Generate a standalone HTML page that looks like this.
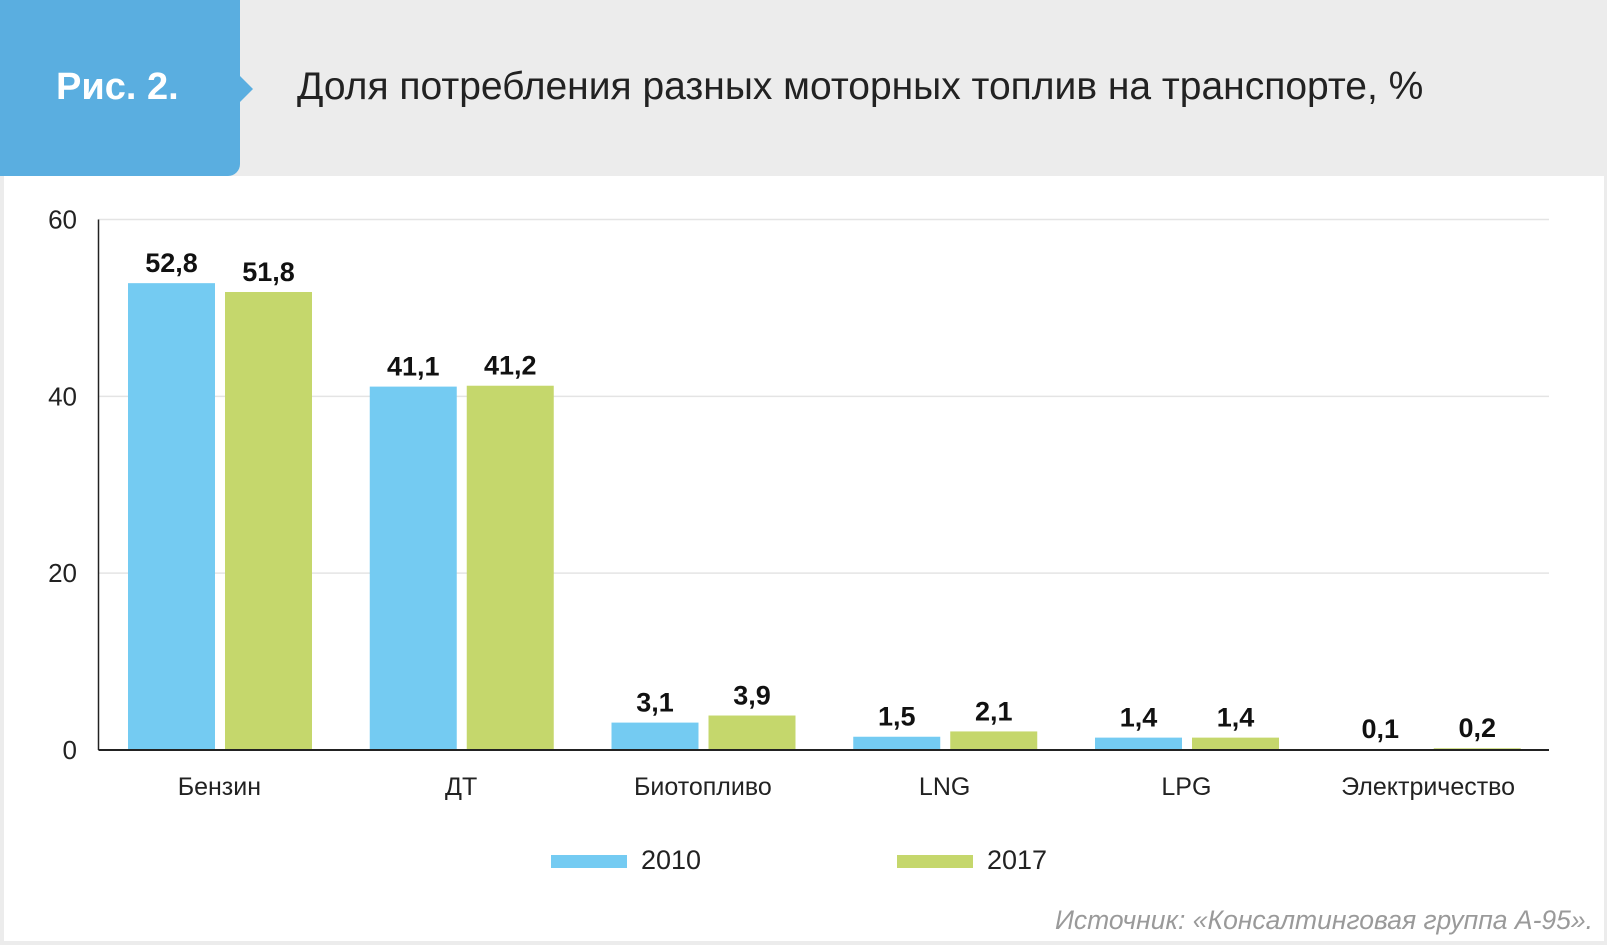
<!DOCTYPE html>
<html><head><meta charset="utf-8">
<style>
body{margin:0;width:1607px;height:945px;overflow:hidden;background:#fff;font-family:"Liberation Sans","DejaVu Sans",sans-serif}
#wrap{position:relative;width:1607px;height:945px;background:#ececec}
#panel{position:absolute;left:4px;top:176px;width:1600px;height:765px;background:#fff}
#badge{position:absolute;left:0;top:0;width:240px;height:176px;background:#5aaee0;border-bottom-right-radius:12px}
#arrow{position:absolute;left:240px;top:76px;width:0;height:0;border-top:13px solid transparent;border-bottom:13px solid transparent;border-left:13px solid #5aaee0}
#badge span{position:absolute;left:56px;top:66px;color:#fff;font-weight:bold;font-size:38px}
#title{position:absolute;left:297px;top:65px;font-size:39px;color:#222}
#source{position:absolute;right:14px;top:905px;font-size:26.5px;color:#9a9a9a;font-style:italic}
svg{position:absolute;left:0;top:0}
</style></head><body>
<div id="wrap">
<div id="badge"><span>Рис. 2.</span></div>
<div id="arrow"></div>
<div id="title">Доля потребления разных моторных топлив на транспорте, %</div>
<div id="panel"></div>
<svg id="chart" width="1607" height="945"></svg>
<div id="source">Источник: «Консалтинговая группа А-95».</div>
</div>
<script>
const categories=["Бензин","ДТ","Биотопливо","LNG","LPG","Электричество"];
const values2010=[52.8,41.1,3.1,1.5,1.4,0.1];
const values2017=[51.8,41.2,3.9,2.1,1.4,0.2];
const yTicks=[0,20,40,60];
const seriesNames=["2010","2017"];
const NS="http://www.w3.org/2000/svg";
const svg=document.getElementById('chart');
const X0=98.5,X1=1549,Y0=750,Y1=219.5,YMAX=60;
const gw=(X1-X0)/categories.length;
function y(v){return Y0-(v/YMAX)*(Y0-Y1);}
function mk(t,a){const e=document.createElementNS(NS,t);for(const k in a)e.setAttribute(k,a[k]);svg.appendChild(e);return e;}
yTicks.forEach(t=>{
  if(t>0){const g=mk('line',{x1:X0,x2:X1,y1:y(t),y2:y(t),stroke:'#e4e4e4','stroke-width':1.5});
  
  }
  const l=mk('text',{x:77,y:y(t)+9,'text-anchor':'end','font-size':26,fill:'#222'});
  l.textContent=t;
  
  
});
const cols=['#74cbf2','#c5d76c'];
const sers=[values2010,values2017];
categories.forEach((c,i)=>{
  sers.forEach((vals,s)=>{
    const bx=X0+i*gw+29.5+s*97;
    const r=mk('rect',{x:bx,y:y(vals[i]),width:87,height:Y0-y(vals[i]),fill:cols[s]});
    
    
    const t=mk('text',{x:bx+43.5,y:y(vals[i])-11,'text-anchor':'middle','font-size':27,'font-weight':'bold',fill:'#111'});
    t.textContent=String(vals[i]).replace('.',',');
    
    
  });
  const cl=mk('text',{x:X0+i*gw+gw/2,y:795,'text-anchor':'middle','font-size':25,fill:'#222'});
  cl.textContent=c;
  
  
});
const ax=mk('line',{x1:X0,x2:X0,y1:Y1,y2:Y0,stroke:'#222','stroke-width':1.5});


const bx=mk('line',{x1:X0,x2:X1,y1:Y0,y2:Y0,stroke:'#222','stroke-width':2});


const legX=[551,897];
seriesNames.forEach((n,s)=>{
  const r=mk('rect',{x:legX[s],y:855,width:76,height:13,fill:cols[s]});
  
  
  const t=mk('text',{x:legX[s]+90,y:869,'font-size':27,fill:'#222'});
  t.textContent=n;
  
  
});
</script>
</body></html>
